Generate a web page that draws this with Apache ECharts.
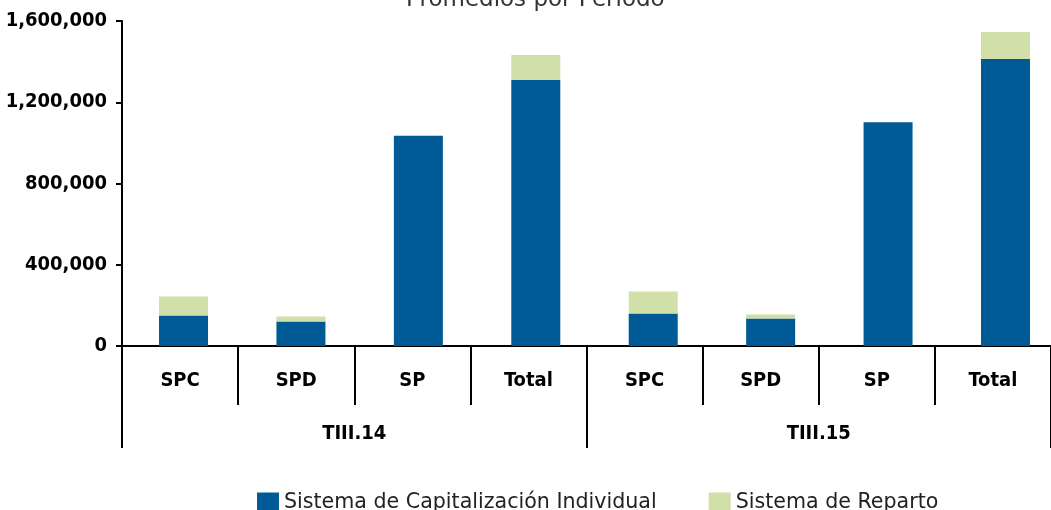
<!DOCTYPE html>
<html>
<head>
<meta charset="utf-8">
<script src="https://cdn.jsdelivr.net/npm/echarts@6/dist/echarts.min.js"></script>
<style>
html,body{margin:0;padding:0;background:#fff;}
#main{width:1051px;height:510px;}
</style>
</head>
<body>
<div id="main"></div>
<script>
var categories = ['SPC','SPD','SP','Total','SPC','SPD','SP','Total'];
var periods = ['TIII.14','TIII.15'];
var capitalizacion = [150400, 120800, 1034500, 1309000, 160300, 135600, 1102000, 1412700];
var reparto = [93600, 24700, 0, 123500, 108400, 19700, 0, 133200];
var seriesNames = ['Sistema de Capitalización Individual','Sistema de Reparto'];

var labelFont = 'DejaVu Sans Condensed';

function initchart(){
    var option = {
        animation: false,
        color: ['#005a95','#d0e0a8'],
        title: {
            text: 'Promedios por Periodo',
            left: 401,
            top: -16,
            textStyle: {
                color: '#333',
                fontSize: 23,
                fontWeight: 'normal',
                fontFamily: 'DejaVu Sans'
            }
        },
        legend: {
            top: 487,
            left: 252,
            icon: 'rect',
            itemWidth: 22,
            itemHeight: 20,
            itemGap: 52,
            textStyle: {
                color: '#222',
                fontSize: 20.6,
                fontFamily: 'DejaVu Sans'
            },
            data: seriesNames
        },
        // grid 0 carries the visible axes, grid 1 carries the bars (spaced a bit wider)
        grid: [{
            left: 122,
            right: 0,
            top: 21,
            bottom: 164
        }, {
            left: 124.8,
            width: 939.4,
            top: 21,
            bottom: 164,
            outerBoundsMode: 'none'
        }],
        xAxis: [{
            type: 'category',
            gridIndex: 0,
            position: 'bottom',
            data: categories,
            axisLine: {
                lineStyle: {color: '#000', width: 2}
            },
            axisTick: {
                show: true,
                interval: 0,
                length: 59,
                lineStyle: {color: '#000', width: 2}
            },
            axisLabel: {
                interval: 0,
                margin: 25,
                color: '#000',
                fontSize: 20,
                fontWeight: 'bold',
                fontFamily: labelFont
            }
        }, {
            type: 'category',
            gridIndex: 0,
            position: 'bottom',
            offset: 0,
            data: periods,
            axisLine: {show: false},
            axisTick: {
                show: true,
                interval: 0,
                length: 102,
                lineStyle: {color: '#000', width: 2}
            },
            axisLabel: {
                interval: 0,
                margin: 78,
                color: '#000',
                fontSize: 20,
                fontWeight: 'bold',
                fontFamily: labelFont
            }
        }, {
            type: 'category',
            gridIndex: 1,
            data: categories,
            show: false
        }],
        yAxis: [{
            type: 'value',
            gridIndex: 0,
            min: 0,
            max: 1600000,
            interval: 400000,
            splitLine: {show: false},
            axisLine: {
                show: true,
                lineStyle: {color: '#000', width: 2}
            },
            axisTick: {
                show: true,
                length: 6,
                lineStyle: {color: '#000', width: 2}
            },
            axisLabel: {
                margin: 15,
                color: '#000',
                fontSize: 20,
                fontWeight: 'bold',
                fontFamily: labelFont,
                formatter: function(v){
                    return v.toString().replace(/\B(?=(\d{3})+(?!\d))/g, ',');
                }
            }
        }, {
            type: 'value',
            gridIndex: 1,
            min: 0,
            max: 1600000,
            show: false,
            splitLine: {show: false}
        }],
        series: [{
            name: seriesNames[0],
            type: 'bar',
            stack: 'total',
            xAxisIndex: 2,
            yAxisIndex: 1,
            barWidth: 49,
            data: capitalizacion
        }, {
            name: seriesNames[1],
            type: 'bar',
            stack: 'total',
            xAxisIndex: 2,
            yAxisIndex: 1,
            barWidth: 49,
            data: reparto
        }]
    };
    var dom = document.getElementById('main');
    var myChart = echarts.init(dom);
    myChart.setOption(option, true);
}
initchart();
</script>
</body>
</html>
